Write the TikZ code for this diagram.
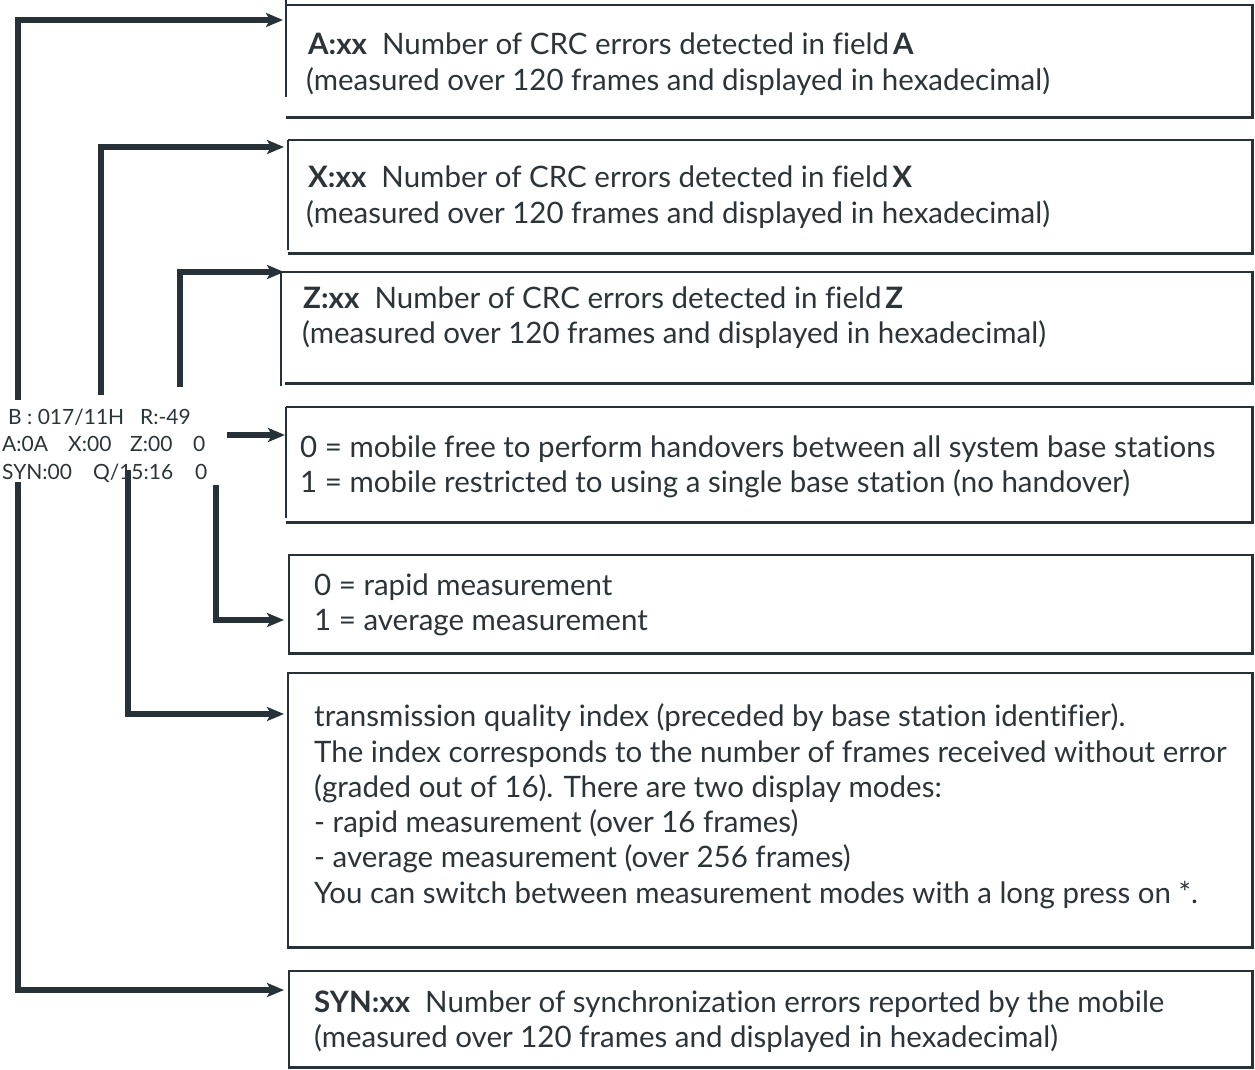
\documentclass[tikz,border=0pt]{standalone}
\usepackage{fontspec}
\setmainfont[Ligatures=NoCommon]{Lato}
\usetikzlibrary{arrows.meta}
\definecolor{ink}{RGB}{38,50,56}
\definecolor{txt}{RGB}{44,52,56}
\begin{document}
\begin{tikzpicture}[x=1pt,y=-1pt,
  conn/.style={line width=6pt, draw=ink, -{Stealth[length=17pt,width=14pt,inset=4pt]}},
  border/.style={line width=2.6pt, draw=ink},
  lbl/.style={anchor=base west, inner sep=0pt, text=txt, font=\fontsize{29.5}{34}\selectfont},
  disp/.style={anchor=base west, inner sep=0pt, text=txt, font=\fontsize{21}{25}\selectfont},
  boxn/.style={inner sep=0pt, anchor=north west, draw=none}]
\useasboundingbox (0,0) rectangle (1255,1070);

% ---- boxes (invisible nodes, borders drawn below) ----
\node[boxn, minimum width=966pt, minimum height=112pt] (bA) at (286,5) {};
\node[boxn, minimum width=964pt, minimum height=113pt] (bX) at (288,140) {};
\node[boxn, minimum width=971pt, minimum height=111pt] (bZ) at (281,272) {};
\node[boxn, minimum width=966pt, minimum height=115pt] (bH) at (286,407) {};
\node[boxn, minimum width=963pt, minimum height=98pt] (bM) at (289,555) {};
\node[boxn, minimum width=964pt, minimum height=274pt] (bQ) at (288,673) {};
\node[boxn, minimum width=963pt, minimum height=96pt] (bS) at (289,971) {};

\draw[border] (bA.north west) -- (bA.north east) -- (bA.south east) -- (bA.south west);
\draw[border] ([yshift=5pt]bA.north west) -- ++(0,97);
\draw[border] (bX.north west) -- (bX.north east) -- (bX.south east) -- (bX.south west);
\draw[border] (bX.north west) -- ++(0,110);
\draw[border] (bZ.north west) -- (bZ.north east) -- (bZ.south east) -- ([xshift=4pt]bZ.south west);
\draw[border] (bZ.north west) -- ++(0,114);
\draw[border] (bH.north west) -- (bH.north east) -- (bH.south east) -- (bH.south west);
\draw[border] (bH.north west) -- ++(0,111);
\draw[border] (bM.north west) rectangle (bM.south east);
\draw[border] (bQ.north west) rectangle (bQ.south east);
\draw[border] (bS.north west) rectangle (bS.south east);

% ---- box texts ----
\node[lbl] (a1) at (308,55) {\textbf{A:xx}\ \ Number of CRC errors detected in field\hspace{4pt}\textbf{A}};
\node[lbl] (a2) at (306,91) {(measured over 120 frames and displayed in hexadecimal)};
\node[lbl] (x1) at (308,187) {\textbf{X:xx}\ \ Number of CRC errors detected in field\hspace{4pt}\textbf{X}};
\node[lbl] (x2) at (306,223) {(measured over 120 frames and displayed in hexadecimal)};
\node[lbl] (z1) at (303,308) {\textbf{Z:xx}\ \ Number of CRC errors detected in field\hspace{4pt}\textbf{Z}};
\node[lbl] (z2) at (302,343) {(measured over 120 frames and displayed in hexadecimal)};
\node[lbl] (h1) at (300,457) {0 = mobile free to perform handovers between all system base stations};
\node[lbl] (h2) at (300,492) {1 = mobile restricted to using a single base station (no handover)};
\node[lbl] (m1) at (314,595) {0 = rapid measurement};
\node[lbl] (m2) at (314,630) {1 = average measurement};
\node[lbl] (q1) at (314,726) {transmission quality index (preceded by base station identifier).};
\node[lbl] (q2) at (314,762) {The index corresponds to the number of frames received without error};
\node[lbl] (q3) at (314,797) {(graded out of 16). There are two display modes:};
\node[lbl] (q4) at (314,832) {- rapid measurement (over 16 frames)};
\node[lbl] (q5) at (314,867) {- average measurement (over 256 frames)};
\node[lbl] (q6) at (314,903) {You can switch between measurement modes with a long press on *.};
\node[lbl] (s1) at (314,1012) {\textbf{SYN:xx}\ \ Number of synchronization errors reported by the mobile};
\node[lbl] (s2) at (314,1047) {(measured over 120 frames and displayed in hexadecimal)};

% ---- display readout ----
\node[disp] (dB) at (8,424) {B : 017/11H};
\node[disp] (dR) at (140,424) {R:-49};
\node[disp] (dA) at (2,451) {A:0A};
\node[disp] (dX) at (68,451) {X:00};
\node[disp] (dZ) at (130,451) {Z:00};
\node[disp] (dH) at (193,451) {0};
\node[disp] (dS) at (2,479) {SYN:00};
\node[disp] (dQ) at (93,479) {Q/15:16};
\node[disp] (dM) at (195,479) {0};

% ---- connector end points ----
\coordinate (cA0) at (18,400);  \coordinate (cA1) at (283,20);
\coordinate (cX0) at (101,395); \coordinate (cX1) at (284,147);
\coordinate (cZ0) at (180,387); \coordinate (cZ1) at (284,272);
\coordinate (cH0) at (227,435); \coordinate (cH1) at (285,435);
\coordinate (cM0) at (216,485); \coordinate (cM1) at (284,620);
\coordinate (cQ0) at (128,470); \coordinate (cQ1) at (284,714);
\coordinate (cS0) at (18,482);  \coordinate (cS1) at (284,990);

\draw[conn] (cA0) |- (cA1);
\draw[conn] (cX0) |- (cX1);
\draw[conn] (cZ0) |- (cZ1);
\draw[conn] (cH0) -- (cH1);
\draw[conn] (cM0) |- (cM1);
\draw[conn] (cQ0) |- (cQ1);
\draw[conn] (cS0) |- (cS1);
\end{tikzpicture}
\end{document}
